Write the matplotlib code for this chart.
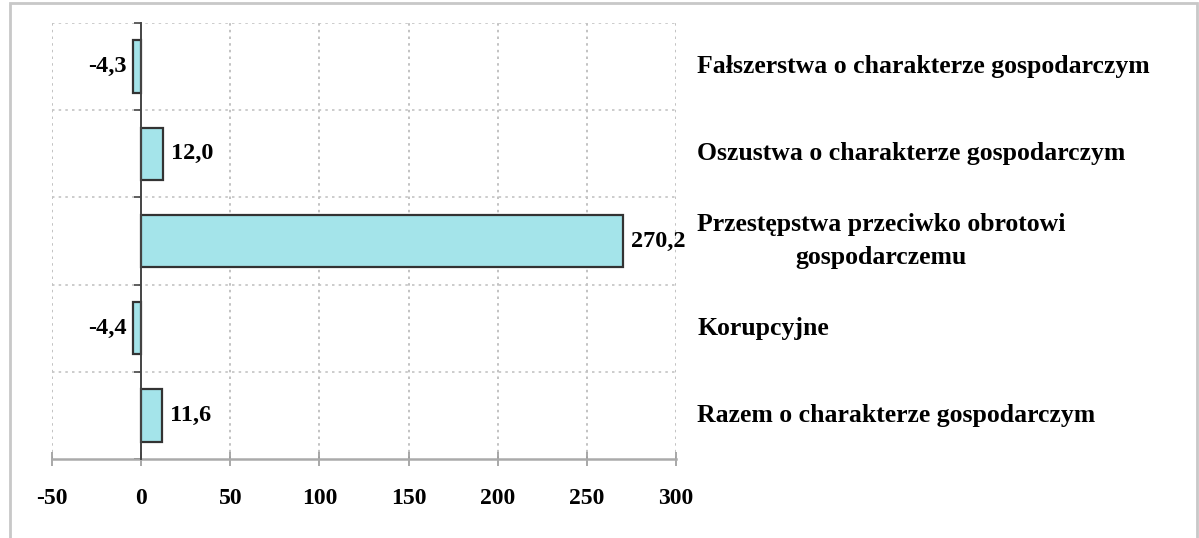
import matplotlib.pyplot as plt
from matplotlib.patches import Rectangle
import matplotlib.transforms as mtransforms

categories = [
    "Fałszerstwa o charakterze gospodarczym",
    "Oszustwa o charakterze gospodarczym",
    "Przestępstwa przeciwko obrotowi\ngospodarczemu",
    "Korupcyjne",
    "Razem o charakterze gospodarczym",
]
values = [-4.3, 12.0, 270.2, -4.4, 11.6]
value_labels = ["-4,3", "12,0", "270,2", "-4,4", "11,6"]
xticks = [-50, 0, 50, 100, 150, 200, 250, 300]

plt.rcParams['font.family'] = ['Liberation Serif', 'DejaVu Serif']
plt.rcParams['font.weight'] = 'bold'

fig = plt.figure(figsize=(11.99, 5.38), dpi=100)
ax = fig.add_axes([52 / 1199, 1 - 459 / 538, 624 / 1199, 436 / 538])

y = list(range(len(categories)))
ax.barh(y, values, height=0.6, color='#a4e4ea', edgecolor='#333333', linewidth=1.6, zorder=3)

ax.set_xlim(-50, 300)
ax.set_ylim(len(categories) - 0.5, -0.5)

# dotted grid
for xv in xticks:
    if xv != 0:
        ax.axvline(xv, color='#b8b8b8', linestyle=(0, (1.5, 2.5)), linewidth=1.2, zorder=1)
for yv in [i - 0.5 for i in range(len(categories))]:
    ax.axhline(yv, color='#c4c4c4', linestyle=(0, (1.5, 2.5)), linewidth=1.2, zorder=1)

# spines
for s in ['top', 'right']:
    ax.spines[s].set_visible(False)
ax.spines['left'].set_position(('data', 0))
ax.spines['left'].set_color('#444444')
ax.spines['left'].set_linewidth(1.4)
ax.spines['left'].set_zorder(4)
ax.spines['bottom'].set_color('#aaaaaa')
ax.spines['bottom'].set_linewidth(1.8)

ax.set_xticks(xticks)
ax.set_xticklabels([str(v) for v in xticks])
ax.tick_params(axis='x', direction='inout', length=10, width=1.2, color='#999999',
               pad=16, labelsize=17)
ax.set_yticks([i - 0.5 for i in range(len(categories))] + [len(categories) - 0.5])
ax.set_yticklabels([])
ax.tick_params(axis='y', direction='out', length=5, width=1.2, color='#444444')

# value labels
for yi, v, lab in zip(y, values, value_labels):
    if v < 0:
        ax.annotate(lab, (v, yi), xytext=(-5, 0), textcoords='offset points',
                    ha='right', va='center', fontsize=17.5, fontweight='bold')
    else:
        ax.annotate(lab, (v, yi), xytext=(6, 0), textcoords='offset points',
                    ha='left', va='center', fontsize=17.5, fontweight='bold')

# category labels on the right
trans = mtransforms.blended_transform_factory(fig.transFigure, ax.transData)
for yi, cat in zip(y, categories):
    ax.text(697 / 1199, yi, cat, transform=trans, ha='left', va='center',
            multialignment='center', fontsize=18.5, fontweight='bold',
            linespacing=1.55, clip_on=False)

# outer frame
fig.patches.append(Rectangle((10 / 1199, -0.02), 1187 / 1199, 1 - 3 / 538 + 0.02,
                             transform=fig.transFigure, fill=False,
                             edgecolor='#c8c8c8', linewidth=2))

fig.savefig("out.png", dpi=100)
